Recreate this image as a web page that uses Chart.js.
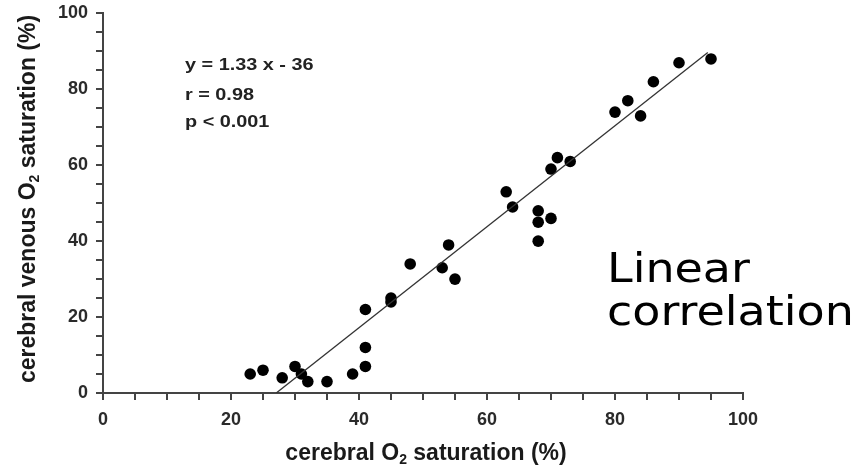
<!DOCTYPE html>
<html>
<head>
<meta charset="utf-8">
<title>Cerebral O2 saturation</title>
<script src="https://cdn.jsdelivr.net/npm/chart.js@4.4.0/dist/chart.umd.min.js"></script>
<style>
    html, body { margin: 0; padding: 0; background: #fff; }
    #scatterChart { display: block; }
</style>
</head>
<body>
<canvas id="scatterChart" width="861" height="476"></canvas>
<script>
// measured pairs: cerebral O2 saturation (x) vs cerebral venous O2 saturation (y)
const cerebralSat = [23, 25, 28, 30, 31, 32, 35, 39, 41, 41, 41, 45, 45, 48, 53, 54, 55,
    63, 64, 68, 68, 68, 70, 70, 71, 73, 80, 82, 84, 86, 90, 95];
const venousSat = [5, 6, 4, 7, 5, 3, 3, 5, 7, 12, 22, 25, 24, 34, 33, 39, 30,
    53, 49, 48, 45, 40, 46, 59, 62, 61, 74, 77, 73, 82, 87, 88];

// regression y = 1.33 x - 36, drawn between its two end points
const fitX = [27.07, 94.5];
const fitY = [0, 89.7];

const tickLabels = [0, 20, 40, 60, 80, 100];
const statsText = ['y = 1.33 x - 36', 'r = 0.98', 'p < 0.001'];
const noteText = ['Linear', 'correlation'];

const FONT = "'Liberation Sans', Arial, sans-serif";

// draws "before O" + subscript "2" + "after", centred on x
function drawSubscriptLabel(ctx, before, after, x, y) {
    ctx.font = 'bold 23px ' + FONT;
    const w1 = ctx.measureText(before).width;
    const w3 = ctx.measureText(after).width;
    ctx.font = 'bold 14px ' + FONT;
    const w2 = ctx.measureText('2').width;
    let left = x - (w1 + w2 + w3) / 2;
    ctx.textAlign = 'left';
    ctx.textBaseline = 'alphabetic';
    ctx.font = 'bold 23px ' + FONT;
    ctx.fillText(before, left, y);
    ctx.font = 'bold 14px ' + FONT;
    ctx.fillText('2', left + w1, y + 4);
    ctx.font = 'bold 23px ' + FONT;
    ctx.fillText(after, left + w1 + w2, y);
}

const textPlugin = {
    id: 'textPlugin',
    afterDraw(chart) {
        const ctx = chart.ctx;
        ctx.save();
        ctx.fillStyle = '#1a1a1a';

        // axis titles
        drawSubscriptLabel(ctx, 'cerebral O', ' saturation (%)', 426, 460);
        ctx.save();
        ctx.translate(35, 199);
        ctx.rotate(-Math.PI / 2);
        drawSubscriptLabel(ctx, 'cerebral venous O', ' saturation (%)', 0, 0);
        ctx.restore();

        // regression statistics
        ctx.fillStyle = '#222';
        ctx.font = 'bold 16px ' + FONT;
        ctx.textAlign = 'left';
        ctx.textBaseline = 'alphabetic';
        const statBase = [70, 100, 127];
        statsText.forEach((line, i) => {
            ctx.save();
            ctx.translate(185, statBase[i]);
            ctx.scale(1.24, 1);
            ctx.fillText(line, 0, 0);
            ctx.restore();
        });

        // side note
        ctx.fillStyle = '#000';
        ctx.font = "40px 'DejaVu Sans', sans-serif";
        const noteBase = [282, 325];
        noteText.forEach((line, i) => {
            ctx.save();
            ctx.translate(607, noteBase[i]);
            ctx.scale(1.15, 1);
            ctx.fillText(line, 0, 0);
            ctx.restore();
        });
        ctx.restore();
    }
};

class ScatterPlot {
    constructor(canvasId) {
        this.ctx = document.getElementById(canvasId);
    }

    buildPoints(xs, ys) {
        return xs.map((x, i) => ({ x: x, y: ys[i] }));
    }

    axis(labelPadding, lineHeight, fit) {
        return {
            type: 'linear',
            min: 0,
            max: 100,
            afterFit: fit,
            border: { display: true, color: '#444', width: 2 },
            grid: {
                drawOnChartArea: false,
                drawTicks: true,
                tickLength: 7,
                color: '#444',
                lineWidth: 2
            },
            ticks: {
                stepSize: 5,
                autoSkip: false,
                maxRotation: 0,
                padding: labelPadding,
                color: '#2a2a2a',
                font: { family: FONT, size: 18, weight: 'bold', lineHeight: lineHeight },
                callback: (value) => tickLabels.includes(value) ? value : ''
            }
        };
    }

    create() {
        const config = {
            type: 'scatter',
            data: {
                datasets: [{
                    type: 'line',
                    data: this.buildPoints(fitX, fitY),
                    borderColor: '#333',
                    borderWidth: 1.3,
                    pointRadius: 0,
                    fill: false
                }, {
                    data: this.buildPoints(cerebralSat, venousSat),
                    backgroundColor: '#000',
                    borderWidth: 0,
                    pointRadius: 5.8,
                    pointHoverRadius: 5.8
                }]
            },
            options: {
                responsive: false,
                animation: false,
                devicePixelRatio: 1,
                layout: { padding: { left: 0, top: 12, right: 118, bottom: 0 } },
                scales: {
                    x: this.axis(9, 1.2, (scale) => { scale.height = 83; }),
                    y: this.axis(8, 0.6, (scale) => { scale.width = 103; })
                },
                plugins: {
                    legend: { display: false },
                    tooltip: { enabled: false }
                }
            },
            plugins: [textPlugin]
        };
        new Chart(this.ctx, config);
    }
}

new ScatterPlot('scatterChart').create();
</script>
</body>
</html>
